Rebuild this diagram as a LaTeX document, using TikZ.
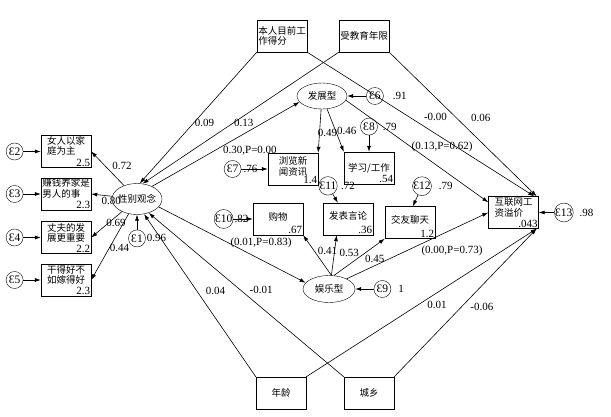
\documentclass[tikz,border=0pt]{standalone}
\usepackage{fontspec}
\setmainfont{Liberation Serif}
\newfontfamily\cjk{Noto Sans CJK SC}
\usetikzlibrary{arrows.meta,positioning,shapes.geometric}

\begin{document}
\begin{tikzpicture}[
    x=1pt, y=-1pt,
    >={Latex[length=6pt,width=4pt]},
    every node/.style={font=\cjk\fontsize{9.5}{10.5}\selectfont},
    obs/.style={draw, rectangle, minimum width=50pt, minimum height=32pt, inner xsep=1pt, inner ysep=0pt, align=left},
    lat/.style={draw, ellipse, minimum width=50pt, minimum height=28pt, inner xsep=-4pt, inner ysep=0pt},
    err/.style={draw, circle, minimum size=17pt, inner sep=0pt, font=\fontsize{11.5}{12}\selectfont},
    lbl/.style={font=\fontsize{11}{12}\selectfont, inner sep=1pt},
    val/.style={lbl, anchor=south east},
    link/.style={->, line width=0.6pt},
]
  \useasboundingbox (0,0) rectangle (611,416);

  % exogenous variables (top and bottom)
  \node[obs] (xb) at (282,36) {本人目前工\\作得分};
  \node[obs] (edu) at (364,36) {受教育年限};
  \node[obs] (age) at (281,393) {年龄};
  \node[obs] (rural) at (369,393) {城乡};

  % gender attitude and its indicators (left)
  \node[lat, minimum height=31pt] (g) at (137,199) {性别观念};
  \node[obs, label={[val]south east:2.5}] (b2) at (66,151.5) {女人以家\\庭为主\\[2pt]~};
  \node[obs, label={[val]south east:2.3}] (b3) at (66,194) {赚钱养家是\\男人的事\\[2pt]~};
  \node[obs, align=center, label={[val]south east:2.2}] (b4) at (66,237.5) {丈夫的发\\展更重要\\[0pt]~};
  \node[obs, align=center, label={[val]south east:2.3}] (b5) at (66,280) {干得好不\\如嫁得好\\[0pt]~};
  \node[err, below=15pt of g, label={[lbl]right:0.96}] (e1) {Ɛ1};
  \node[err, left=17.5pt of b2] (e2) {Ɛ2};
  \node[err, left=17.5pt of b3] (e3) {Ɛ3};
  \node[err, left=17.5pt of b4] (e4) {Ɛ4};
  \node[err, left=17.5pt of b5] (e5) {Ɛ5};

  % development-type use
  \node[lat, minimum height=26pt] (dev) at (322,96) {发展型};
  \node[obs, align=center, label={[val]south east:1.4}] (news) at (293,169) {浏览新\\闻资讯\\[-4pt]~};
  \node[obs, label={[val]south east:.54}] (study) at (369,168) {学习/工作};
  \node[err, right=19pt of dev, label={[lbl, label distance=8pt]right:.91}] (e6) {Ɛ6};
  \node[err, left=26.5pt of news, label={[lbl, label distance=1pt]right:.76}] (e7) {Ɛ7};
  \node[err, above=16.5pt of study, label={[lbl, label distance=4pt]right:.79}] (e8) {Ɛ8};

  % entertainment-type use
  \node[lat, minimum width=52pt, minimum height=27pt] (ent) at (329,289) {娱乐型};
  \node[obs, text depth=5pt, label={[val]south east:.67}] (shop) at (278,219) {购物};
  \node[obs, text depth=8pt, label={[val]south east:.36}] (speak) at (348,219) {发表言论};
  \node[obs, text depth=7pt, label={[val]south east:1.2}] (chat) at (410,222.5) {交友聊天};
  \node[err, right=18.5pt of ent, label={[lbl, label distance=6pt]right:1}] (e9) {Ɛ9};
  \node[err, left=19.5pt of shop, label={[lbl, label distance=0pt]right:.82}] (e10) {Ɛ10};
  \node[err, above=7.5pt of speak, xshift=-20pt, label={[lbl, label distance=2.5pt]right:.72}] (e11) {Ɛ11};
  \node[err, above=10.5pt of chat, xshift=12pt, label={[lbl, label distance=6pt]right:.79}] (e12) {Ɛ12};

  % outcome
  \node[obs, label={[val]south east:.043}] (wage) at (513.5,212.5) {互联网工\\资溢价\\[0pt]~};
  \node[err, right=15.5pt of wage, label={[lbl, label distance=5pt]right:.98}] (e13) {Ɛ13};

  % paths into gender attitude
  \draw[link] (xb.south west) -- node[lbl, pos=0.54, right] {0.09} (g.80);
  \draw[link] (edu.south west) -- node[lbl, pos=0.54, right] {0.13} (g.70);
  \draw[link] (age.north west) -- node[lbl, pos=0.53, right=8pt] {0.04} (g.295);
  \draw[link] (rural.north west) -- node[lbl, pos=0.53, right=8pt] {-0.01} (g.310);
  \draw[link] (e1) -- (g);

  % loadings of gender attitude
  \draw[link] (g) -- node[lbl, pos=0.58, right=6pt] {0.72} (b2.east);
  \draw[link] (g) -- node[lbl, pos=0.05, below, inner sep=0.5pt] {0.80} (b3.east);
  \draw[link] (g) -- node[lbl, pos=0.42, right=-4pt] {0.69} (b4.east);
  \draw[link] (g) -- node[lbl, pos=0.51, right=-1pt] {0.44} (b5.east);
  \draw[link] (e2) -- (b2);
  \draw[link] (e3) -- (b3);
  \draw[link] (e4) -- (b4);
  \draw[link] (e5) -- (b5);

  % gender attitude to the two use types
  \draw[link] (g.40) -- node[lbl, pos=0.48, anchor=north west, inner sep=0pt] {0.30,P=0.00} (dev.195);
  \draw[link] (g.340) -- node[lbl, pos=0.48, right] {(0.01,P=0.83)} (ent.165);

  % development-type indicators
  \draw[link] (dev) -- node[lbl, pos=0.55, right=-3pt] {0.49} (news.north east);
  \draw[link] (dev) -- node[lbl, pos=0.52, right] {0.46} (study.north west);
  \draw[link] (e6) -- (dev);
  \draw[link] (e7) -- (news);
  \draw[link] (e8) -- (study);

  % entertainment-type indicators
  \draw[link] (ent.80) -- node[lbl, pos=0.6, right=2pt] {0.41} (shop.south east);
  \draw[link] (ent.80) -- node[lbl, pos=0.56, right=4pt] {0.53} (speak.235);
  \draw[link] (ent.70) -- node[lbl, pos=0.59, below right] {0.45} (chat.south west);
  \draw[link] (e9) -- (ent);
  \draw[link] (e10) -- (shop);
  \draw[link] (e11) -- (speak.122);
  \draw[link] (e12) -- (chat.80);

  % paths into the wage premium
  \draw[link] (xb.south east) -- node[lbl, pos=0.5, above right, inner sep=3pt] {-0.00} (wage.38);
  \draw[link] (edu.south east) -- node[lbl, pos=0.52, above right, inner sep=5pt] {0.06} (wage.35);
  \draw[link] (dev.350) -- node[lbl, pos=0.46, anchor=west, inner sep=0pt] {(0.13,P=0.62)} ([yshift=-6pt]wage.north west);
  \draw[link] (ent.30) -- node[lbl, pos=0.52, below right] {(0.00,P=0.73)} (wage.west);
  \draw[link] (age.north east) -- node[lbl, pos=0.52, below right] {0.01} (wage.325);
  \draw[link] (rural.north east) -- node[lbl, pos=0.47, right=8pt] {-0.06} (wage.325);
  \draw[link] (e13) -- (wage);
\end{tikzpicture}
\end{document}
